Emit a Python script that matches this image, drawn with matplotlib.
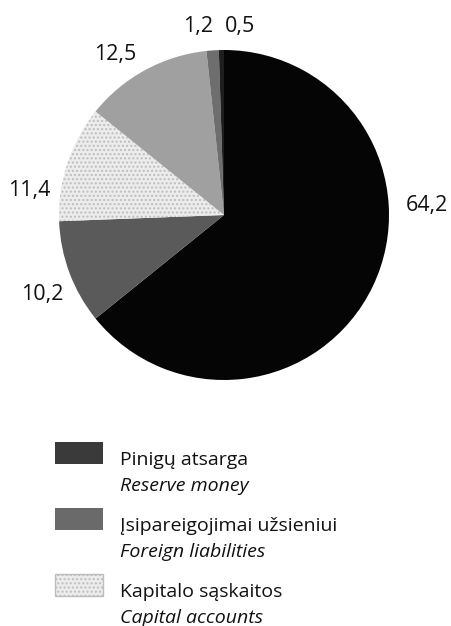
import matplotlib
matplotlib.use("Agg")
import matplotlib.pyplot as plt
from matplotlib.patches import Rectangle

plt.rcParams['font.family'] = ['Open Sans', 'DejaVu Sans']

# Data
values = [64.2, 10.2, 11.4, 12.5, 1.2, 0.5]
value_labels = ["64,2", "10,2", "11,4", "12,5", "1,2", "0,5"]
colors = ["#050505", "#5a5a5a", "#ececec", "#a0a0a0", "#6e6e6e", "#1e1e1e"]
label_pos = [(1.23, 0.06), (-1.10, -0.48), (-1.18, 0.15), (-0.66, 0.97), (-0.16, 1.14), (0.10, 1.14)]

legend_lt = ["Pinigų atsarga", "Įsipareigojimai užsieniui", "Kapitalo sąskaitos"]
legend_en = ["Reserve money", "Foreign liabilities", "Capital accounts"]
legend_colors = ["#3a3a3a", "#6a6a6a", "#ececec"]

W, H = 451, 626
fig = plt.figure(figsize=(W / 100, H / 100), dpi=100)

cx, cy, R = 224, 215, 165
top_px = 400
ax = fig.add_axes([0, (H - top_px) / H, 1, top_px / H])

wedges, _ = ax.pie(values, colors=colors, startangle=90, counterclock=False,
                   radius=1.0, wedgeprops=dict(linewidth=0))
wedges[2].set_hatch('....')
wedges[2].set_edgecolor('#bdbdbd')
wedges[2].set_linewidth(0)
ax.set_aspect('auto')
ax.set_xlim(-cx / R, (W - cx) / R)
ax.set_ylim((cy - top_px) / R, cy / R)
ax.axis('off')

for lab, (x, y) in zip(value_labels, label_pos):
    ax.text(x, y, lab, ha='center', va='center', fontsize=15.5, color='#111111')

# Legend (manual)
lax = fig.add_axes([0, 0, 1, (H - top_px) / H])
lax.set_xlim(0, W)
lax.set_ylim(H - top_px, 0)
lax.axis('off')
y0 = 442 - top_px
dy = 66
for i, (lt, en, c) in enumerate(zip(legend_lt, legend_en, legend_colors)):
    yy = y0 + i * dy
    rect = Rectangle((55, yy), 48, 22, facecolor=c, edgecolor='none')
    if i == 2:
        rect.set_hatch('....')
        rect.set_edgecolor('#bdbdbd')
    lax.add_patch(rect)
    lax.text(120, yy + 23, lt, ha='left', va='baseline', fontsize=14, color='#111111')
    lax.text(120, yy + 49, en, ha='left', va='baseline', fontsize=14, style='italic', color='#111111')

fig.savefig("out.png", dpi=100)
